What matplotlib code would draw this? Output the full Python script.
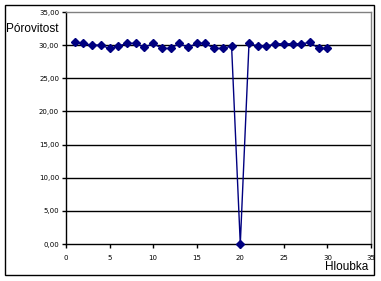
import matplotlib
matplotlib.use("Agg")
import matplotlib.pyplot as plt
from matplotlib.patches import Rectangle

depth = list(range(1, 31))
porosity = [30.42, 30.27, 30.0, 30.0, 29.5, 29.85, 30.27, 30.27, 29.65, 30.27,
            29.5, 29.5, 30.27, 29.65, 30.27, 30.27, 29.5, 29.5, 29.9, 0.0,
            30.27, 29.85, 29.85, 30.2, 30.2, 30.2, 30.2, 30.42, 29.5, 29.5]
yticks = [0, 5, 10, 15, 20, 25, 30, 35]
xticks = [0, 5, 10, 15, 20, 25, 30, 35]

fig = plt.figure(figsize=(3.81, 2.81), dpi=100)
fig.patch.set_facecolor("white")
fig.add_artist(Rectangle((5/381, 1-275/281), 369/381, 270/281, transform=fig.transFigure,
                         fill=False, edgecolor="black", linewidth=1.0))

ax = fig.add_axes([66/381, 1-244/281, 305/381, 232/281])
ax.set_xlim(0, 35)
ax.set_ylim(0, 35)
for y in yticks[1:-1]:
    ax.axhline(y, color="black", linewidth=1.0, zorder=1)
ax.plot(depth, porosity, color="#000080", linewidth=1.0, marker="D", markersize=4,
        markerfacecolor="#000080", markeredgecolor="#000080", zorder=3, clip_on=False)

ax.set_xticks(xticks)
ax.set_yticks(yticks)
ax.set_yticklabels([f"{v:.2f}".replace(".", ",") for v in yticks])
ax.tick_params(axis="both", direction="out", length=3, width=1, labelsize=5, pad=2, colors="black")
ax.tick_params(axis="x", pad=5)
for s in ["top", "right"]:
    ax.spines[s].set_color("#808080")
for s in ["left", "bottom"]:
    ax.spines[s].set_color("black")
for s in ax.spines.values():
    s.set_linewidth(1.0)

fig.text(6/381, 1-29/281, "Pórovitost", family="Liberation Sans", fontsize=8.5, va="center", ha="left")
fig.text(368/381, 1-267/281, "Hloubka", family="Liberation Sans", fontsize=8.5, va="center", ha="right")

fig.savefig("out.png", dpi=100)
